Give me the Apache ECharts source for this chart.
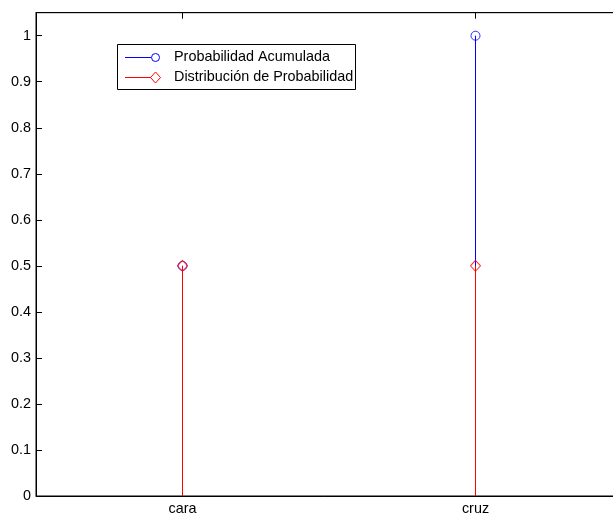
<!DOCTYPE html>
<html>
<head>
<meta charset="utf-8">
<script src="https://cdn.jsdelivr.net/npm/echarts@6/dist/echarts.min.js"></script>
<style>
html,body{margin:0;padding:0;background:#fff;}
#chart{width:613px;height:516px;}
</style>
</head>
<body>
<div id="chart"></div>
<script>
const categories = ['cara', 'cruz'];
const acumulada = [0.5, 1];
const distribucion = [0.5, 0.5];
const seriesNames = ['Probabilidad Acumulada', 'Distribución de Probabilidad'];
const yMin = 0, yMax = 1.05, yStep = 0.1;

const FONT = '"Liberation Sans", Arial, sans-serif';
const BLUE = '#0000ff', RED = '#ff0000';

function stemSeries(values, color, z) {
  return {
    type: 'custom',
    z: z,
    silent: true,
    data: values.map((v, i) => [i, v]),
    renderItem: function (params, api) {
      const top = api.coord([api.value(0), api.value(1)]);
      const base = api.coord([api.value(0), 0]);
      const x = Math.round(top[0] - 0.5) + 0.5;
      return {
        type: 'line',
        shape: { x1: x, y1: base[1], x2: x, y2: top[1] },
        style: { stroke: color, lineWidth: 1 }
      };
    }
  };
}

const chart = echarts.init(document.getElementById('chart'), null, { renderer: 'canvas' });
chart.setOption({
  animation: false,
  backgroundColor: '#fff',
  textStyle: { fontFamily: FONT },
  grid: { left: 36, top: 12.7, width: 586, height: 483.3, show: true, borderColor: '#000', borderWidth: 1,
    containLabel: false, outerBoundsMode: 'none' },
  xAxis: [{
    type: 'category',
    data: categories,
    boundaryGap: true,
    axisLine: { lineStyle: { color: '#000', width: 1 } },
    axisTick: { show: true, inside: true, alignWithLabel: true, length: 6, lineStyle: { color: '#000' } },
    axisLabel: { color: '#000', fontSize: 14.4, fontFamily: FONT, margin: 6 },
    splitLine: { show: false }
  }, {
    type: 'category',
    data: categories,
    position: 'top',
    boundaryGap: true,
    axisLine: { lineStyle: { color: '#000', width: 1 } },
    axisTick: { show: true, inside: true, alignWithLabel: true, length: 6, lineStyle: { color: '#000' } },
    axisLabel: { show: false },
    splitLine: { show: false }
  }],
  yAxis: {
    type: 'value',
    min: yMin, max: yMax, interval: yStep,
    axisLine: { show: true, lineStyle: { color: '#000', width: 1 } },
    axisTick: { show: true, inside: true, length: 6, lineStyle: { color: '#000' } },
    axisLabel: { color: '#000', fontSize: 14.4, fontFamily: FONT, margin: 5, showMaxLabel: false,
      formatter: v => (Math.round(v * 10) / 10).toString() },
    splitLine: { show: false }
  },
  series: [
    stemSeries(acumulada, BLUE, 2),
    {
      name: seriesNames[0], type: 'scatter', z: 3, silent: true,
      data: acumulada.map((v, i) => [i, v]),
      symbol: 'circle', symbolSize: 9,
      itemStyle: { color: 'rgba(0,0,0,0)', borderColor: BLUE, borderWidth: 1 }
    },
    stemSeries(distribucion, RED, 4),
    {
      name: seriesNames[1], type: 'scatter', z: 5, silent: true,
      data: distribucion.map((v, i) => [i, v]),
      symbol: 'diamond', symbolSize: [10, 11],
      itemStyle: { color: 'rgba(0,0,0,0)', borderColor: RED, borderWidth: 1 }
    }
  ],
  graphic: [
    { type: 'rect', left: 117, top: 44, shape: { x: 0, y: 0, width: 238, height: 45 },
      style: { fill: '#fff', stroke: '#000', lineWidth: 1 }, z: 10 },
    { type: 'line', shape: { x1: 125, y1: 57.5, x2: 151, y2: 57.5 }, style: { stroke: BLUE, lineWidth: 1 }, z: 11 },
    { type: 'circle', shape: { cx: 155.5, cy: 57.5, r: 4 }, style: { fill: 'none', stroke: BLUE, lineWidth: 1 }, z: 11 },
    { type: 'text', x: 174, y: 57, style: { text: seriesNames[0], fill: '#000', font: '14.4px ' + FONT, textVerticalAlign: 'middle' }, z: 11 },
    { type: 'line', shape: { x1: 125, y1: 77.5, x2: 151, y2: 77.5 }, style: { stroke: RED, lineWidth: 1 }, z: 11 },
    { type: 'polygon', shape: { points: [[155.5, 72], [160.5, 77.5], [155.5, 83], [150.5, 77.5]] }, style: { fill: 'none', stroke: RED, lineWidth: 1 }, z: 11 },
    { type: 'text', x: 174, y: 77, style: { text: seriesNames[1], fill: '#000', font: '14.4px ' + FONT, textVerticalAlign: 'middle' }, z: 11 }
  ]
});
</script>
</body>
</html>
